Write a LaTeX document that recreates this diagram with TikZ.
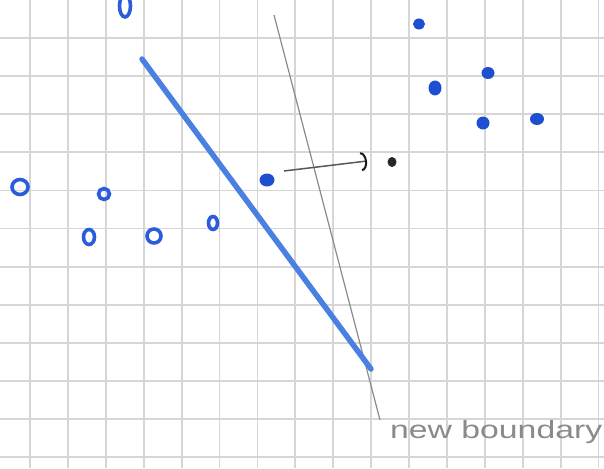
\documentclass[tikz,border=0pt]{standalone}
\usepackage{fontspec}
\setmainfont{Liberation Sans}
\usetikzlibrary{shapes.geometric,arrows.meta}
\definecolor{gridc}{HTML}{D6D6D6}
\definecolor{dotblue}{HTML}{1E4FD0}
\definecolor{ringblue}{HTML}{2A5CDC}
\definecolor{lineblue}{HTML}{4A80E2}
\definecolor{pencil}{HTML}{8A8A8A}
\tikzset{
  dot/.style={ellipse, fill=dotblue, inner sep=0pt},
  ring/.style={ellipse, draw=ringblue, line width=3.6pt, inner sep=0pt},
  blackdot/.style={ellipse, fill=black!85, inner sep=0pt},
  pencilline/.style={draw=pencil, line width=1.2pt},
}
\begin{document}
\begin{tikzpicture}[x=1pt,y=-1pt]
\useasboundingbox (0,0) rectangle (604,468);
\fill[white] (0,0) rectangle (604,468);
% grid
\foreach \k in {0,...,15} \draw[gridc, line width=1.8pt] ({30+37.9*\k},0) -- ({30+37.9*\k},468);
\foreach \k in {0,...,11} \draw[gridc, line width=1.8pt] (0,{38+38.1*\k}) -- (604,{38+38.1*\k});
% pencil boundary
\coordinate (g1) at (274,15);
\coordinate (g2) at (380,420);
\draw[pencilline] (g1) -- (g2);
% blue boundary
\coordinate (b1) at (142,59);
\coordinate (b2) at (371,369);
\draw[lineblue, line width=5.5pt, line cap=round] (b1) -- (b2);
% rings
\node[ring, minimum width=16pt, minimum height=15pt] (o1) at (20,187) {};
\node[ring, minimum width=11pt, minimum height=11pt] (o2) at (104,194) {};
\node[ring, minimum width=11pt, minimum height=15pt] (o3) at (89,237) {};
\node[ring, minimum width=14pt, minimum height=14pt] (o4) at (154,236) {};
\node[ring, minimum width=9pt, minimum height=13pt] (o5) at (213,223) {};
\node[ring, minimum width=11pt, minimum height=22pt] (o6) at (125,6) {};
% filled dots
\node[dot, minimum width=15pt, minimum height=13pt] (d1) at (267,180) {};
\node[dot, minimum width=12pt, minimum height=11pt] (d2) at (419,24) {};
\node[dot, minimum width=13pt, minimum height=15pt] (d3) at (435,88) {};
\node[dot, minimum width=13pt, minimum height=12pt] (d4) at (488,73) {};
\node[dot, minimum width=13pt, minimum height=13pt] (d5) at (483,123) {};
\node[dot, minimum width=14pt, minimum height=12pt] (d6) at (537,119) {};
\node[blackdot, minimum width=9pt, minimum height=10pt] (k) at (392,162) {};
% arrow
\coordinate (a1) at (284,171);
\coordinate (a2) at (367,161);
\draw[draw=black!65, line width=1.5pt, -{Arc Barb[length=6pt,width=19pt,line width=2pt,black!90]}] (a1) -- (a2);
% label
\node[anchor=base west, inner sep=0pt, text=pencil] (lbl) at (390,438)
  {\scalebox{1.35}[1]{\fontsize{25}{25}\selectfont new boundary}};
\end{tikzpicture}
\end{document}
